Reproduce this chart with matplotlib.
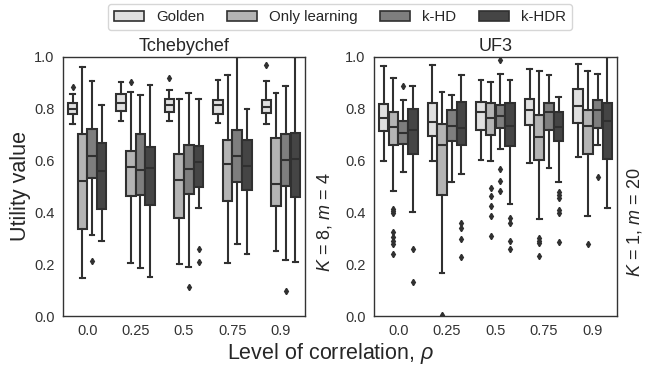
import matplotlib
matplotlib.use("Agg")
import matplotlib.pyplot as plt
from matplotlib.patches import Patch

plt.rcParams['font.family'] = ['Liberation Sans', 'DejaVu Sans']
plt.rcParams['mathtext.fontset'] = 'custom'
plt.rcParams['mathtext.it'] = 'Liberation Sans:italic'
plt.rcParams['mathtext.rm'] = 'Liberation Sans'

categories = ["0.0", "0.25", "0.5", "0.75", "0.9"]
methods = ["Golden", "Only learning", "k-HD", "k-HDR"]
colors = ["#e0e0e0", "#b4b4b4", "#7e7e7e", "#454545"]

# ---------------- Tchebychef ----------------
tch_golden_med = [0.799, 0.822, 0.812, 0.812, 0.805]
tch_golden_q1 = [0.777, 0.791, 0.786, 0.777, 0.782]
tch_golden_q3 = [0.822, 0.856, 0.837, 0.833, 0.833]
tch_golden_lo = [0.738, 0.750, 0.751, 0.743, 0.738]
tch_golden_hi = [0.856, 0.901, 0.869, 0.908, 0.905]
tch_golden_fl = [[0.882], [], [0.918], [], [0.968]]

tch_only_med = [0.520, 0.574, 0.523, 0.587, 0.510]
tch_only_q1 = [0.337, 0.462, 0.376, 0.443, 0.423]
tch_only_q3 = [0.703, 0.636, 0.623, 0.679, 0.686]
tch_only_lo = [0.145, 0.203, 0.199, 0.203, 0.250]
tch_only_hi = [0.959, 0.863, 0.835, 0.927, 0.860]
tch_only_fl = [[], [0.901], [], [], []]

tch_khd_med = [0.615, 0.562, 0.568, 0.615, 0.600]
tch_khd_q1 = [0.532, 0.465, 0.469, 0.517, 0.500]
tch_khd_q3 = [0.719, 0.703, 0.660, 0.718, 0.700]
tch_khd_lo = [0.314, 0.186, 0.190, 0.276, 0.215]
tch_khd_hi = [0.905, 0.850, 0.859, 0.997, 0.888]
tch_khd_fl = [[0.213], [], [0.110], [], [0.097]]

tch_khdr_med = [0.559, 0.572, 0.593, 0.578, 0.606]
tch_khdr_q1 = [0.414, 0.427, 0.497, 0.487, 0.459]
tch_khdr_q3 = [0.667, 0.651, 0.654, 0.677, 0.705]
tch_khdr_lo = [0.288, 0.151, 0.417, 0.237, 0.207]
tch_khdr_hi = [0.815, 0.892, 0.835, 0.799, 1.000]
tch_khdr_fl = [[], [], [0.258, 0.209], [], []]

# ---------------- UF3 ----------------
uf3_golden_med = [0.763, 0.747, 0.786, 0.795, 0.809]
uf3_golden_q1 = [0.712, 0.692, 0.718, 0.735, 0.745]
uf3_golden_q3 = [0.818, 0.822, 0.824, 0.835, 0.873]
uf3_golden_lo = [0.597, 0.596, 0.603, 0.590, 0.613]
uf3_golden_hi = [0.963, 0.968, 0.908, 0.953, 0.972]
uf3_golden_fl = [[], [], [], [], []]

uf3_only_med = [0.728, 0.660, 0.763, 0.690, 0.732]
uf3_only_q1 = [0.660, 0.468, 0.696, 0.600, 0.626]
uf3_only_q3 = [0.786, 0.741, 0.820, 0.773, 0.792]
uf3_only_lo = [0.482, 0.167, 0.596, 0.372, 0.386]
uf3_only_hi = [0.918, 0.863, 0.901, 0.946, 0.943]
uf3_only_fl = [[0.414, 0.405, 0.395, 0.324, 0.305, 0.290, 0.277, 0.238],
               [0.005],
               [0.495, 0.463, 0.424, 0.386, 0.308],
               [0.299, 0.288, 0.280, 0.232],
               [0.277]]

uf3_khd_med = [0.706, 0.731, 0.769, 0.786, 0.792]
uf3_khd_q1 = [0.664, 0.674, 0.724, 0.718, 0.726]
uf3_khd_q3 = [0.750, 0.795, 0.814, 0.820, 0.831]
uf3_khd_lo = [0.555, 0.517, 0.645, 0.570, 0.658]
uf3_khd_hi = [0.831, 0.853, 0.931, 0.929, 0.933]
uf3_khd_fl = [[0.888], [], [0.987, 0.568, 0.519, 0.482], [], [0.537]]

uf3_khdr_med = [0.715, 0.726, 0.731, 0.728, 0.750]
uf3_khdr_q1 = [0.623, 0.658, 0.655, 0.674, 0.606]
uf3_khdr_q3 = [0.799, 0.824, 0.820, 0.788, 0.820]
uf3_khdr_lo = [0.399, 0.546, 0.433, 0.517, 0.418]
uf3_khdr_hi = [0.888, 0.927, 0.908, 0.843, 1.000]
uf3_khdr_fl = [[0.260, 0.132], [0.359, 0.341, 0.296, 0.226],
               [0.378, 0.359, 0.290, 0.260],
               [0.478, 0.465, 0.453, 0.410, 0.397, 0.286], []]

tch = [
    (tch_golden_med, tch_golden_q1, tch_golden_q3, tch_golden_lo, tch_golden_hi, tch_golden_fl),
    (tch_only_med, tch_only_q1, tch_only_q3, tch_only_lo, tch_only_hi, tch_only_fl),
    (tch_khd_med, tch_khd_q1, tch_khd_q3, tch_khd_lo, tch_khd_hi, tch_khd_fl),
    (tch_khdr_med, tch_khdr_q1, tch_khdr_q3, tch_khdr_lo, tch_khdr_hi, tch_khdr_fl),
]
uf3 = [
    (uf3_golden_med, uf3_golden_q1, uf3_golden_q3, uf3_golden_lo, uf3_golden_hi, uf3_golden_fl),
    (uf3_only_med, uf3_only_q1, uf3_only_q3, uf3_only_lo, uf3_only_hi, uf3_only_fl),
    (uf3_khd_med, uf3_khd_q1, uf3_khd_q3, uf3_khd_lo, uf3_khd_hi, uf3_khd_fl),
    (uf3_khdr_med, uf3_khdr_q1, uf3_khdr_q3, uf3_khdr_lo, uf3_khdr_hi, uf3_khdr_fl),
]

W, H = 647, 368
fig = plt.figure(figsize=(W / 100, H / 100), dpi=100)
ax1 = fig.add_axes([63 / W, 52 / H, 242 / W, 259.5 / H])
ax2 = fig.add_axes([374 / W, 52 / H, 243 / W, 259.5 / H])

line_c = "#303030"
offsets = [-0.3, -0.1, 0.1, 0.3]


def draw(ax, data, title):
    for m, (med, q1, q3, lo, hi, fl) in enumerate(data):
        stats = []
        for i in range(len(categories)):
            stats.append(dict(med=med[i], q1=q1[i], q3=q3[i],
                              whislo=lo[i], whishi=hi[i], fliers=fl[i]))
        pos = [i + offsets[m] for i in range(len(categories))]
        ax.bxp(stats, positions=pos, widths=0.196, patch_artist=True,
               showfliers=True, manage_ticks=False,
               boxprops=dict(facecolor=colors[m], edgecolor=line_c, linewidth=1.5),
               medianprops=dict(color=line_c, linewidth=1.5),
               whiskerprops=dict(color=line_c, linewidth=1.5),
               capprops=dict(color=line_c, linewidth=1.5),
               flierprops=dict(marker='d', markersize=3.2, markerfacecolor=line_c,
                               markeredgecolor=line_c, linestyle='none'))
    ax.set_xlim(-0.5, len(categories) - 0.5)
    ax.set_ylim(0, 1)
    ax.set_xticks(range(len(categories)))
    ax.set_xticklabels(categories)
    ax.set_yticks([0, 0.2, 0.4, 0.6, 0.8, 1.0])
    ax.set_yticklabels(["0.0", "0.2", "0.4", "0.6", "0.8", "1.0"])
    ax.tick_params(length=0, labelsize=10.5, colors="#333333", pad=6)
    for s in ax.spines.values():
        s.set_color("#333333")
        s.set_linewidth(1.0)
    ax.set_title(title, fontsize=13, pad=4, color="#262626")


draw(ax1, tch, "Tchebychef")
draw(ax2, uf3, "UF3")

fig.text(21 / W, 1 - 186 / H, "Utility value", rotation=90, ha='center',
         va='center', fontsize=15.5, color="#262626")
fig.text(331 / W, 1 - 353 / H, r"Level of correlation, $\rho$", ha='center',
         va='center', fontsize=15.5, color="#262626")
fig.text(324 / W, 1 - 222 / H, r"$K$ = 8, $m$ = 4", rotation=90, ha='center',
         va='center', fontsize=13, color="#262626")
fig.text(634 / W, 1 - 222 / H, r"$K$ = 1, $m$ = 20", rotation=90, ha='center',
         va='center', fontsize=13, color="#262626")

handles = [Patch(facecolor=c, edgecolor=line_c, linewidth=1.2) for c in colors]
leg = fig.legend(handles, methods, loc='upper center',
                 bbox_to_anchor=(340 / W, 1 - 4 / H), ncol=4, fontsize=10.8,
                 frameon=True, fancybox=True, edgecolor="#cccccc",
                 columnspacing=1.5, handlelength=2.0, borderaxespad=0)
for t in leg.get_texts():
    t.set_color("#262626")

fig.savefig("out.png", dpi=100)
